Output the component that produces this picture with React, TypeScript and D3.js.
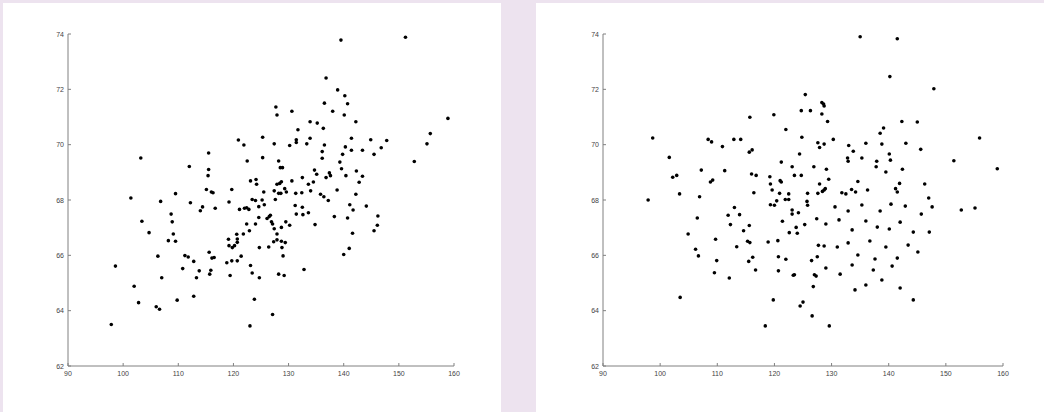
import React from "react";
import * as d3 from "d3";

const xTicks = [90, 100, 110, 120, 130, 140, 150, 160];
const yTicks = [62, 64, 66, 68, 70, 72, 74];

const leftX = [97.85, 98.6, 101.4, 103.2, 102.0, 102.8, 103.4, 104.7, 106.3, 106.0, 106.6, 107.0, 106.8, 109.5, 108.7, 108.9, 109.1, 108.2, 109.5, 109.8, 110.8, 111.2, 111.8, 112.0, 112.2, 112.8, 112.8, 113.3, 113.8, 114.0, 114.4, 115.5, 115.5, 115.4, 115.1, 116.0, 116.3, 116.7, 115.6, 115.9, 115.7, 116.1, 116.5, 118.8, 119.2, 119.1, 119.2, 119.4, 119.7, 119.8, 119.7, 120.2, 120.6, 120.7, 120.7, 120.7, 120.9, 121.1, 121.4, 121.9, 121.8, 122.0, 122.4, 122.5, 122.4, 122.9, 122.8, 123.1, 123.1, 123.0, 123.4, 123.4, 123.8, 124.1, 124.2, 124.0, 124.0, 124.6, 124.6, 124.7, 124.7, 125.2, 125.3, 125.3, 125.5, 125.6,
  127.1, 127.7, 127.9, 127.4, 127.6, 127.4, 127.9, 128.2, 128.5, 128.9, 128.4, 128.7, 128.2, 128.6, 126.5, 126.1, 126.9, 127.1, 126.7, 127.4, 127.9, 128.7, 129.5, 130.2, 127.3, 127.9, 128.7, 129.4, 126.4, 128.8, 129.0, 128.2, 129.2, 132.8, 129.3, 129.6, 130.6, 131.3, 131.2, 131.4, 132.4, 132.5, 132.5, 132.6, 133.6, 133.6, 134.0, 134.5, 134.7, 135.1, 134.8, 135.8, 136.4, 137.2, 136.8, 137.4, 137.6, 136.1, 136.1, 136.5, 136.3, 135.2, 133.9, 133.9, 133.3, 131.4, 131.4, 131.7, 130.2, 130.6, 136.5, 136.8, 138.0, 138.9, 139.5, 140.2, 140.7, 140.1, 142.2, 141.4, 140.3, 141.4, 139.8, 139.3, 139.6, 140.4, 138.8, 142.3, 143.4, 142.8, 142.2, 143.4, 144.9, 145.5, 146.8, 147.8, 141.1, 141.7, 140.7, 138.3, 144.1, 146.2, 146.1, 145.5, 141.6, 141.0, 140.0, 151.2, 152.8, 155.1, 155.7, 158.9];
const leftY = [63.50, 65.61, 68.07, 69.52, 64.88, 64.29, 67.23, 66.82, 65.97, 64.14, 64.05, 65.19, 67.95, 68.23, 67.49, 67.21, 66.77, 66.53, 66.51, 64.38, 65.52, 65.99, 65.94, 69.21, 67.90, 65.78, 64.52, 65.19, 65.44, 67.61, 67.75, 69.70, 69.10, 68.88, 68.38, 68.29, 68.26, 67.70, 66.11, 65.46, 65.32, 65.90, 65.92, 65.73, 67.93, 66.58, 66.35, 65.27, 68.38, 66.28, 65.80, 66.35, 66.76, 66.59, 66.47, 65.80, 70.17, 67.66, 65.97, 69.99, 66.77, 67.70, 67.72, 69.41, 67.13, 66.89, 67.66, 68.69, 65.63, 63.45, 65.36, 68.02, 64.41, 68.74, 68.57, 67.98, 67.13, 67.37, 67.76, 66.28, 65.19, 68.00, 70.27, 69.53, 68.29, 67.83,
  63.86, 71.36, 71.07, 70.03, 68.02, 68.33, 68.57, 69.41, 69.17, 69.17, 68.60, 68.66, 68.24, 68.24, 67.40, 67.33, 67.21, 67.13, 67.45, 66.96, 66.77, 67.01, 67.21, 67.09, 66.49, 66.56, 66.51, 66.46, 66.30, 66.28, 65.98, 65.32, 65.27, 65.49, 68.41, 68.29, 68.69, 68.24, 67.80, 67.49, 68.26, 68.81, 67.74, 67.47, 67.54, 68.57, 68.33, 68.65, 69.08, 68.93, 67.11, 68.21, 68.12, 67.98, 68.81, 68.98, 68.88, 69.51, 69.75, 69.99, 70.59, 70.78, 70.83, 70.23, 70.03, 70.18, 70.08, 70.54, 69.97, 71.21, 71.50, 72.41, 71.21, 71.98, 73.78, 71.77, 71.48, 71.07, 70.83, 70.23, 69.92, 69.80, 69.65, 69.37, 69.13, 68.88, 68.36, 69.05, 68.86, 68.64, 68.21, 69.80, 70.18, 69.65, 69.89, 70.15, 67.83, 67.64, 67.35, 67.40, 67.78, 67.42, 67.09, 66.89, 66.80, 66.25, 66.03, 73.88, 69.39, 70.03, 70.40, 70.95];

const rightX = [98.7, 97.9, 101.6, 102.2, 102.9, 103.4, 107.2, 106.9, 108.4, 109.0, 110.9, 112.9, 114.1, 115.7, 119.9, 115.6, 116.1, 108.8, 109.2, 111.3, 116.0, 116.8, 116.4, 113.0, 111.9, 113.9, 106.5, 112.3, 114.6, 115.6, 104.9, 109.7, 106.2, 106.7, 113.4, 115.3, 115.7, 109.9, 109.5, 112.1, 115.5, 116.2, 116.7, 103.5, 118.9, 120.6, 120.7, 122.0, 120.7, 123.3, 123.5, 126.5, 127.0, 127.3, 126.8, 127.7, 127.4, 122.6, 124.0, 121.4, 123.8, 125.3, 123.1, 123.1, 124.2, 119.3, 120.0, 120.4, 121.9, 122.5, 120.9, 122.5, 119.6, 119.3, 121.0, 121.2, 119.2, 123.5, 124.7, 123.1, 121.2, 126.9, 124.4, 124.8, 122.0, 124.7, 126.3, 127.6, 127.9, 127.9, 125.8, 125.7, 127.5,
  135.0, 141.5, 140.2, 147.9, 125.4, 128.3, 128.6, 128.7, 128.3, 129.3, 142.3, 145.0, 139.1, 138.5, 130.3, 128.7, 133.0, 133.8, 136.0, 138.8, 143.0, 145.6, 140.1, 140.3, 132.8, 132.9, 135.3, 137.9, 137.8, 139.5, 142.4, 129.1, 129.5, 134.6, 141.9, 146.3, 125.8, 127.6, 128.4, 128.7, 128.9, 131.8, 132.5, 133.5, 134.2, 136.3, 141.2, 141.5, 147.0, 151.4, 155.9, 159.0,
  130.6, 132.9, 135.3, 138.5, 140.4, 142.9, 145.7, 147.6, 152.7, 155.1, 129.0, 131.3, 133.6, 136.0, 138.0, 140.1, 142.0, 144.3, 147.1, 128.7, 131.0, 132.9, 134.6, 136.7, 137.6, 139.5, 141.5, 143.4, 145.1, 129.0, 131.5, 133.6, 136.0, 137.3, 138.8, 140.6, 142.0, 134.1, 119.8, 124.5, 125.0, 118.4, 126.6, 129.6, 144.3];
const rightY = [70.24, 68.0, 69.54, 68.82, 68.89, 68.22, 69.08, 68.12, 70.19, 70.10, 69.93, 70.19, 70.19, 70.99, 71.08, 69.73, 69.81, 68.65, 68.72, 69.06, 68.94, 68.89, 68.26, 67.73, 67.45, 67.47, 67.35, 67.11, 66.89, 67.08, 66.77, 66.58, 66.22, 65.98, 66.31, 66.51, 66.46, 65.81, 65.37, 65.18, 65.78, 65.93, 65.47, 64.48, 66.48, 66.53, 65.95, 65.86, 65.44, 65.28, 65.30, 65.81, 65.30, 65.25, 64.87, 66.36, 67.32, 66.82, 66.80, 67.23, 67.01, 67.11, 67.64, 67.49, 67.54, 67.83, 67.81, 67.97, 68.02, 68.02, 68.24, 68.22, 68.36, 68.58, 68.70, 68.65, 68.84, 68.89, 68.89, 69.20, 69.37, 69.20, 69.66, 70.27, 70.55, 71.23, 71.23, 70.07, 69.90, 68.58, 67.81, 67.95, 65.95,
  73.90, 73.83, 72.46, 72.02, 71.81, 71.52, 71.47, 71.40, 71.11, 70.84, 70.84, 70.82, 70.60, 70.41, 70.19, 70.02, 69.97, 69.76, 70.05, 70.02, 70.05, 69.83, 69.66, 69.44, 69.52, 69.40, 69.52, 69.40, 69.20, 69.01, 69.11, 69.11, 68.75, 68.67, 68.60, 68.58, 68.24, 68.24, 68.31, 68.36, 68.41, 68.26, 68.22, 68.38, 68.29, 68.36, 68.41, 68.29, 68.07, 69.42, 70.24, 69.13,
  67.75, 67.60, 67.82, 67.60, 67.85, 67.78, 67.49, 67.75, 67.64, 67.71, 67.13, 67.28, 66.92, 67.24, 67.02, 66.95, 67.20, 66.84, 66.84, 66.34, 66.30, 66.45, 66.01, 66.52, 65.87, 66.30, 65.90, 66.37, 66.12, 65.54, 65.32, 65.65, 64.93, 65.47, 65.11, 65.61, 64.82, 64.75, 64.39, 64.17, 64.31, 63.45, 63.81, 63.45, 64.39];

const AXIS = "#808080";
const LABEL = "#444";
const FONT = "'Liberation Sans', Arial, sans-serif";

function Panel({ xs, ys, x0, x1 }: { xs: number[]; ys: number[]; x0: number; x1: number }) {
  const x = d3.scaleLinear().domain([90, 160]).range([x0, x1]);
  const y = d3.scaleLinear().domain([62, 74]).range([366, 34]);
  return (
    <g>
      <line x1={x(90)} x2={x(160)} y1={y(62)} y2={y(62)} stroke={AXIS} strokeWidth={1} />
      <line x1={x(90)} x2={x(90)} y1={y(62)} y2={y(74)} stroke={AXIS} strokeWidth={1} />
      {xTicks.map((t) => (
        <g key={"x" + t}>
          <line x1={x(t)} x2={x(t)} y1={y(62)} y2={y(62) - 3} stroke={AXIS} strokeWidth={1} />
          <text x={x(t)} y={y(62) + 10} fontSize={7} fill={LABEL} textAnchor="middle" fontFamily={FONT}>{t}</text>
        </g>
      ))}
      {yTicks.map((t) => (
        <g key={"y" + t}>
          <line x1={x(90)} x2={x(90) + 3} y1={y(t)} y2={y(t)} stroke={AXIS} strokeWidth={1} />
          <text x={x(90) - 4} y={y(t) + 2.5} fontSize={7} fill={LABEL} textAnchor="end" fontFamily={FONT}>{t}</text>
        </g>
      ))}
      {xs.map((v, i) => (
        <circle key={i} cx={x(v)} cy={y(ys[i])} r={1.8} fill="#000" />
      ))}
    </g>
  );
}

export default function App() {
  return (
    <svg width={1044} height={412} style={{ position: "fixed", left: 0, top: 0, display: "block" }}>
      <rect x={0} y={0} width={1044} height={412} fill="#ede3ef" />
      <rect x={3} y={3} width={498} height={409} fill="#ffffff" />
      <rect x={536} y={3} width={508} height={409} fill="#ffffff" />
      <Panel xs={leftX} ys={leftY} x0={68} x1={454} />
      <Panel xs={rightX} ys={rightY} x0={603} x1={1003} />
    </svg>
  );
}
